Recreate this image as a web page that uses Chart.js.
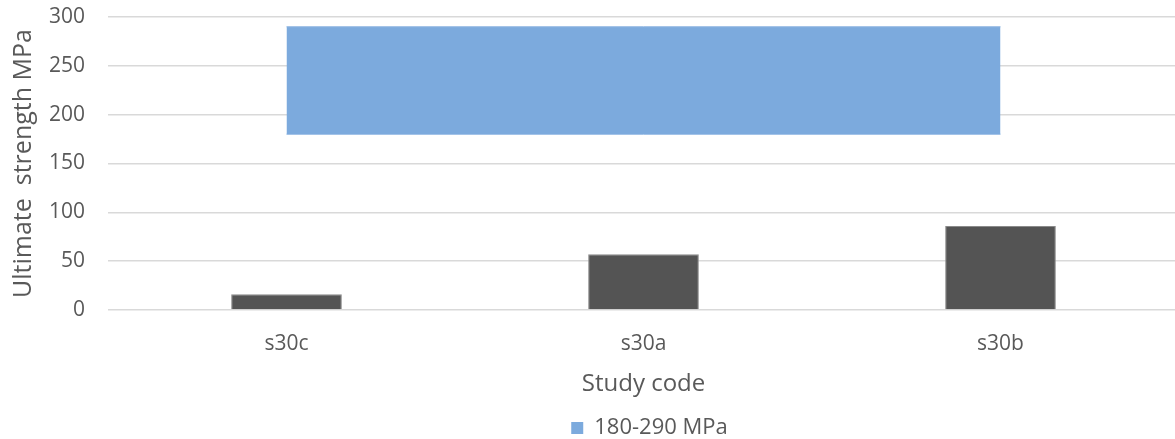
<!DOCTYPE html>
<html>
<head>
<meta charset="utf-8">
<script src="https://cdn.jsdelivr.net/npm/chart.js@4/dist/chart.umd.min.js"></script>
<style>
  html, body { margin: 0; padding: 0; background: #fff; overflow: hidden; }
  #wrap { width: 1179px; height: 439px; position: relative; }
</style>
</head>
<body>
<div id="wrap"><canvas id="c"></canvas></div>
<script>
// Study codes and measured ultimate strength (MPa)
const categories = ['s30c', 's30a', 's30b'];
const strengthValues = [16, 57, 86];

// Reference band 180-290 MPa
const bandLabel = '180-290 MPa';
const bandLow = [180, 180, 180];
const bandHigh = [290, 290, 290];

// Y axis ticks
const yTicks = [0, 50, 100, 150, 200, 250, 300];

const textColor = '#595959';
const bandColor = '#7caadd';
const fontFamily = '"Open Sans", "Noto Sans", sans-serif';

// Centre the legend under the plot area and sit it close to the bottom edge
const legendUnderPlot = {
  id: 'legendUnderPlot',
  afterLayout(chart) {
    const lg = chart.legend;
    if (!lg) return;
    const area = chart.chartArea;
    const shift = (area.left + area.right) / 2 + 6 - (lg.left + lg.right) / 2;
    lg.left += shift;
    lg.right += shift;
    lg.top += 10;
    lg.bottom += 10;
  }
};

new Chart(document.getElementById('c'), {
  data: {
    labels: categories,
    datasets: [
      {
        type: 'line',
        label: 'band-low',
        data: bandLow,
        borderColor: '#8fb6e2',
        borderWidth: 1,
        pointRadius: 0,
        fill: false,
        order: 2
      },
      {
        type: 'line',
        label: bandLabel,
        data: bandHigh,
        borderColor: '#8fb6e2',
        borderWidth: 1,
        backgroundColor: bandColor,
        pointRadius: 0,
        fill: '-1',
        order: 1
      },
      {
        type: 'bar',
        label: 'Ultimate strength',
        data: strengthValues,
        backgroundColor: '#545454',
        borderColor: '#8a8a8a',
        borderWidth: 1,
        categoryPercentage: 1,
        barPercentage: 0.31,
        order: 0
      }
    ]
  },
  plugins: [legendUnderPlot],
  options: {
    responsive: true,
    maintainAspectRatio: false,
    animation: false,
    layout: { padding: { top: 17, right: 0, bottom: 0, left: 0 } },
    plugins: {
      tooltip: { enabled: false },
      legend: {
        position: 'bottom',
        labels: {
          color: textColor,
          font: { family: fontFamily, size: 22 },
          boxWidth: 12,
          boxHeight: 12,
          padding: 2,
          filter: (item) => item.text === bandLabel,
          generateLabels: (chart) => Chart.defaults.plugins.legend.labels.generateLabels(chart)
            .map(l => Object.assign(l, { lineWidth: 0, strokeStyle: 'transparent', fillStyle: bandColor }))
        }
      }
    },
    scales: {
      x: {
        type: 'category',
        offset: true,
        grid: { display: false },
        border: { display: false },
        ticks: { color: textColor, font: { family: fontFamily, size: 21 }, padding: 13 },
        title: {
          display: true,
          text: 'Study code',
          color: textColor,
          font: { family: fontFamily, size: 24 },
          padding: { top: 0, bottom: 6 }
        },
        afterFit: (s) => { s.height = 95; s.paddingLeft = 0; s.paddingRight = 0; }
      },
      y: {
        min: 0,
        max: 300,
        afterBuildTicks: (axis) => { axis.ticks = yTicks.map(v => ({ value: v })); },
        grid: { color: '#d9d9d9', lineWidth: 1.5, drawTicks: false },
        border: { display: false },
        ticks: { color: textColor, font: { family: fontFamily, size: 21 }, padding: 23 },
        title: {
          display: true,
          text: 'Ultimate  strength MPa',
          color: textColor,
          font: { family: fontFamily, size: 25 },
          padding: { top: 9, bottom: 0 }
        },
        afterFit: (s) => { s.width = 108; s.paddingTop = 0; s.paddingBottom = 0; }
      }
    }
  }
});
</script>
</body>
</html>
